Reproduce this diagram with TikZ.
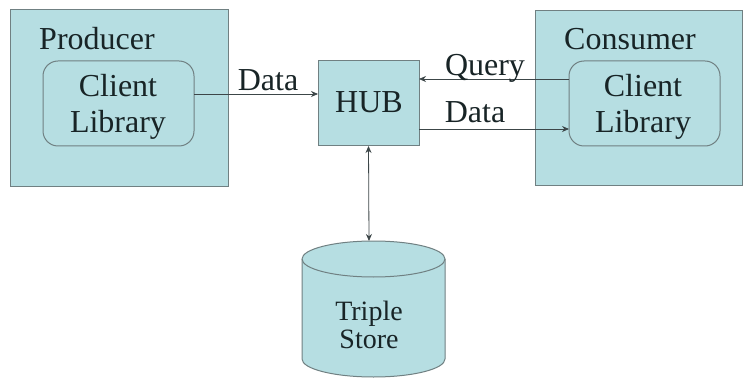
\documentclass[tikz,border=0pt]{standalone}
\usepackage{fontspec}
\setmainfont{Liberation Serif}
\usetikzlibrary{arrows.meta}
\definecolor{boxfill}{RGB}{182,222,226}
\definecolor{boxline}{RGB}{112,128,130}
\definecolor{inktext}{RGB}{24,36,38}
\definecolor{wire}{RGB}{60,70,72}
\tikzset{
  panel/.style={draw=boxline, fill=boxfill, line width=1pt},
  libbox/.style={draw=boxline, fill=boxfill, line width=1pt, rounded corners=15pt},
  txt/.style={text=inktext, font=\fontsize{32}{38}\selectfont, inner sep=0pt, anchor=base},
  smalltxt/.style={txt, font=\fontsize{28}{30}\selectfont},
  link/.style={draw=wire, line width=0.8pt, -{Stealth[length=7pt,width=6pt]}},
  dlink/.style={draw=wire, line width=0.8pt, {Stealth[length=7pt,width=6pt]}-{Stealth[length=7pt,width=6pt]}}
}
\begin{document}
\begin{tikzpicture}[x=1pt,y=-1pt]
\useasboundingbox (0,0) rectangle (743,379);
\fill[white] (0,0) rectangle (743,379);

% producer side
\path[panel] (10,10) rectangle (228,187);
\node[txt] (prodlbl) at (97,50) {Producer};
\path[libbox] (43,61) rectangle (194,146);
\coordinate (prodlibE) at (194,94);
\node[txt] (prodc) at (118,97) {Client};
\node[txt] (prodl) at (118,133) {Library};

% consumer side
\path[panel] (535,11) rectangle (742,186);
\node[txt] (conslbl) at (630,50) {Consumer};
\path[libbox] (569,61) rectangle (720,146);
\coordinate (conslibQ) at (569,79);
\coordinate (conslibD) at (569,129);
\node[txt] (consc) at (643,97) {Client};
\node[txt] (consl) at (643,133) {Library};

% hub
\node[panel, minimum width=101pt, minimum height=85pt, inner sep=0pt, outer sep=0pt] (hub) at (368.5,103.5) {};
\node[txt] (hubtxt) at (369,113) {HUB};

% triple store: a cylinder with an elliptic top
\path[panel] (302,259) -- (302,359) arc[start angle=180, end angle=360, x radius=71.5, y radius=-18]
  -- (445,259) arc[start angle=0, end angle=180, x radius=71.5, y radius=-18] -- cycle;
\draw[boxline, line width=1pt] (302,259) arc[start angle=180, end angle=360, x radius=71.5, y radius=-18];
\coordinate (storetop) at (369,241);
\node[smalltxt] (st1) at (369,320) {Triple};
\node[smalltxt] (st2) at (369,348) {Store};

% connectors
\draw[link] (prodlibE) -- (hub.west |- prodlibE);
\draw[link] (conslibQ) -- (hub.east |- conslibQ);
\draw[link] (hub.east |- conslibD) -- (conslibD);
\draw[dlink] (hub.south) -- (storetop);

% connector labels
\node[txt] (ldata1) at (268,91) {Data};
\node[txt] (lquery) at (485,76) {Query};
\node[txt] (ldata2) at (475,123) {Data};
\end{tikzpicture}
\end{document}
